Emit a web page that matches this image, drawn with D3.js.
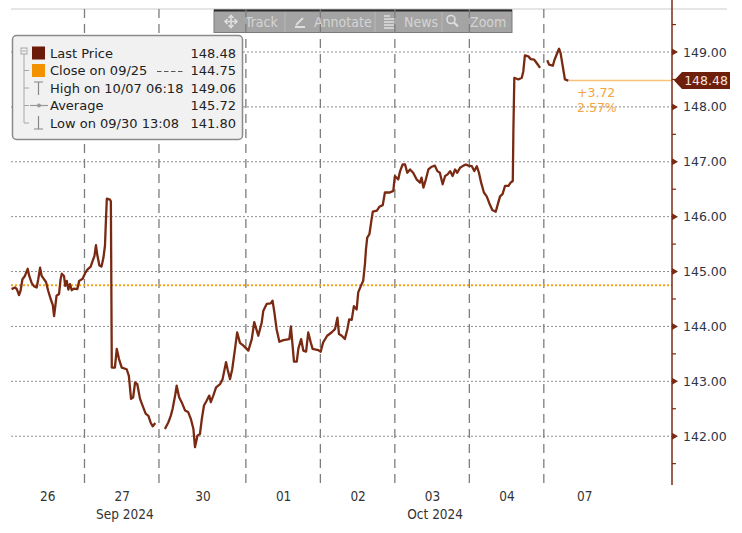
<!DOCTYPE html>
<html>
<head>
<meta charset="utf-8">
<script src="https://cdn.jsdelivr.net/npm/d3@7.9.0/dist/d3.min.js"></script>
<style>
  body { margin: 0; background: #fff; }
  svg { display: block; }
  text { font-family: "DejaVu Sans", sans-serif; }
</style>
</head>
<body>
<svg id="chart" width="742" height="533"></svg>
<script>
// sessions (hours from the start of the 26th session)
const dayLabels = ['26', '27', '30', '01', '02', '03', '04', '07'];
const dayLabelHours = [12, 36, 62, 88, 112, 136, 160, 185];
const dayBoundaries = [24, 48, 76, 100, 124, 148, 172];
const monthLabels = ['Sep 2024', 'Oct 2024'];
const monthLabelHours = [37, 137];

// price ticks
const yTicks = [142, 143, 144, 145, 146, 147, 148, 149];
const yMinorTicks = [141.5, 142.5, 143.5, 144.5, 145.5, 146.5, 147.5, 148.5, 149.5];

// intraday series (null = market closed)
const priceHours = [
  0.5, 1.6, 2.2, 2.9, 3.4, 4.0, 4.8, 5.7, 6.2, 7.0, 7.8, 8.6, 9.1, 9.7, 10.2, 10.7, 11.6, 12.3, 13.1, 13.8,
  14.2, 14.6, 15.0, 15.8, 16.3, 16.7, 17.4, 17.8, 18.3, 18.8, 19.3, 19.9, 20.6, 21.7, 22.3, 23.4,
  24.2, 25.0, 26.0, 26.6, 27.2, 27.7, 28.1, 28.8, 29.5, 30.1, 30.6, 30.9, 31.2, 32.2, 32.5, 32.8, 33.8,
  34.4, 35.1, 36.0, 37.6, 38.3, 39.0, 39.7, 40.3, 41.0, 41.9, 42.9, 43.7, 44.6, 45.3, 46.0, 46.8,
  48.0,
  49.9, 51.0, 51.8, 52.4, 53.2, 53.7, 54.5, 55.3, 56.4, 57.4, 58.3, 59.1, 59.6, 60.4, 61.2, 61.8,
  62.5, 63.4, 64.2, 64.7, 65.5, 66.4, 67.7, 68.5, 69.6, 70.1, 70.9, 71.6, 72.5, 73.2, 74.1, 75.2,
  76.8, 77.9, 78.7, 80.0, 81.1, 81.6, 82.7, 84.0, 84.6, 85.2, 85.9, 86.8, 88.1, 90.0, 90.5, 91.1,
  91.5, 92.4, 92.9, 93.8, 94.5, 95.4, 96.1, 96.9, 97.5, 99.3,
  100.1, 100.9, 102.2, 103.6, 104.7, 105.5, 106.0, 106.9, 107.9, 108.7, 109.3, 110.1, 110.8, 111.7,
  112.2, 113.3, 113.8, 114.4, 114.7, 115.1, 115.8, 116.5, 116.9, 118.2, 119.0, 120.1, 120.8, 121.9,
  122.4, 123.5,
  124.0, 125.1, 125.7, 126.5, 127.3, 128.0, 128.9, 129.9, 131.0, 132.1, 132.6, 133.2, 134.0, 134.8,
  135.9, 136.9, 137.7, 138.5, 139.4, 140.2, 141.0, 141.8, 142.6, 143.4, 144.1, 145.0, 146.1, 146.9,
  147.7,
  148.8, 149.6, 150.4, 151.1, 151.8, 152.7, 153.6, 154.4, 155.4, 156.5, 157.3, 157.9, 158.7, 159.5,
  160.6, 161.3, 162.0, 162.2, 162.5, 163.8, 164.9, 165.4, 165.9, 167.0, 167.8, 168.9, 169.7, 170.8,
  172.0,
  173.1, 173.7, 174.9, 175.4, 176.1, 176.9, 177.4, 178.1, 178.8, 179.9
];
const priceValues = [
  144.68, 144.71, 144.68, 144.57, 144.65, 144.86, 144.92, 145.05, 144.92, 144.79, 144.73, 144.71, 144.86, 145.07, 144.92, 144.88, 144.81, 144.65, 144.50, 144.39,
  144.19, 144.37, 144.56, 144.59, 144.86, 144.96, 144.92, 144.74, 144.83, 144.67, 144.77, 144.66, 144.69, 144.68, 144.83, 144.87,
  144.97, 145.04, 145.09, 145.19, 145.28, 145.48, 145.31, 145.11, 145.09, 145.25, 145.47, 145.92, 146.33, 146.31, 146.28, 143.25, 143.25,
  143.59, 143.41, 143.25, 143.22, 143.10, 142.68, 142.71, 142.98, 142.95, 142.68, 142.53, 142.41, 142.37, 142.25, 142.18, 142.24,
  null,
  142.13, 142.25, 142.37, 142.50, 142.74, 142.92, 142.71, 142.62, 142.47, 142.44, 142.31, 142.13, 141.80, 142.01, 142.04, 142.31,
  142.56, 142.65, 142.74, 142.62, 142.74, 142.89, 142.95, 143.04, 143.35, 143.22, 143.04, 143.22, 143.59, 143.89, 143.70, 143.65,
  143.56, 143.77, 144.08, 143.83, 144.07, 144.28, 144.41, 144.42, 144.47, 144.25, 143.95, 143.72, 143.75, 143.77, 144.00, 143.62,
  143.36, 143.36, 143.59, 143.77, 143.56, 143.54, 143.89, 143.71, 143.59, 143.57,
  143.54, 143.71, 143.83, 143.89, 143.95, 144.16, 143.86, 143.83, 143.77, 143.95, 144.13, 144.12, 144.37, 144.31,
  144.62, 144.77, 144.83, 145.16, 145.41, 145.62, 145.68, 145.95, 146.09, 146.11, 146.18, 146.21, 146.44, 146.44,
  146.44, 146.47,
  146.74, 146.68, 146.83, 146.95, 146.95, 146.80, 146.86, 146.80, 146.68, 146.62, 146.71, 146.53, 146.68, 146.86,
  146.91, 146.93, 146.83, 146.80, 146.59, 146.74, 146.77, 146.83, 146.74, 146.86, 146.80, 146.89, 146.93, 146.95,
  146.93,
  146.92, 146.83, 146.92, 146.80, 146.62, 146.44, 146.37, 146.25, 146.12, 146.09, 146.25, 146.37, 146.41, 146.56,
  146.56, 146.62, 146.65, 147.59, 148.53, 148.50, 148.53, 148.65, 148.94, 148.92, 148.87, 148.86, 148.80, 148.71,
  null,
  148.85, 148.77, 148.75, 148.85, 148.95, 149.06, 148.98, 148.74, 148.50, 148.48
];

const closePrice = 144.75;
const lastPrice = 148.48;
const changeLabels = ['+3.72', '2.57%'];

// legend
const legendLabels = ['Last Price', 'Close on 09/25', 'High on 10/07 06:18', 'Average', 'Low on 09/30 13:08'];
const legendValues = ['148.48', '144.75', '149.06', '145.72', '141.80'];

// toolbar
const toolButtons = ['Track', 'Annotate', 'News', 'Zoom'];

const lineColor = '#7a2a12';
const svg = d3.select('#chart');

const plotLeft = 11, plotRight = 672, plotTop = 9, plotBottom = 485;
const x = d3.scaleLinear().domain([0, 213.3]).range([10, plotRight]);
const y = d3.scaleLinear().domain([142, 149]).range([436.2, 52]);

// top border
svg.append('line')
  .attr('x1', plotLeft).attr('x2', 727).attr('y1', plotTop).attr('y2', plotTop)
  .attr('stroke', '#dcdcdc').attr('stroke-width', 1.5);

// toolbar
const tb = svg.append('g');
const tbX = [214, 285, 375, 442, 512];
tb.append('rect')
  .attr('x', 214).attr('y', 10).attr('width', 298).attr('height', 22.5)
  .attr('fill', '#a4a4a4').attr('stroke', '#7a7a7a');
tb.append('line')
  .attr('x1', 214).attr('x2', 512).attr('y1', 10.5).attr('y2', 10.5)
  .attr('stroke', '#2a2a2a').attr('stroke-width', 2);
tbX.slice(1, 4).forEach(sx => {
  tb.append('line')
    .attr('x1', sx).attr('x2', sx).attr('y1', 12).attr('y2', 32)
    .attr('stroke', '#b8b8b8');
});
const tbText = [245, 314, 404, 470];
toolButtons.forEach((b, i) => {
  tb.append('text')
    .attr('x', tbText[i]).attr('y', 26.5)
    .style('font-family', '"DejaVu Sans Condensed", sans-serif')
    .style('font-size', '14px')
    .attr('fill', '#d4d4d4')
    .text(b);
});
const iconC = '#dedede';
// track icon (4-way arrows)
tb.append('path')
  .attr('d', 'M225,21.5h12M231,15.5v12M228.5,18l2.5,-2.5l2.5,2.5M228.5,25l2.5,2.5l2.5,-2.5M227.5,19l-2.5,2.5l2.5,2.5M234.5,19l2.5,2.5l-2.5,2.5')
  .attr('stroke', iconC).attr('stroke-width', 1.6).attr('fill', 'none');
// pencil
tb.append('path')
  .attr('d', 'M295,27h10M296,25l7,-7')
  .attr('stroke', iconC).attr('stroke-width', 1.8).attr('fill', 'none');
// news lines
tb.append('path')
  .attr('d', 'M384,16h6M384,19h10M384,22h10M384,25h10M384,28h10')
  .attr('stroke', iconC).attr('stroke-width', 1.5).attr('fill', 'none');
// magnifier
tb.append('circle').attr('cx', 451).attr('cy', 19.5).attr('r', 4)
  .attr('stroke', iconC).attr('stroke-width', 1.6).attr('fill', 'none');
tb.append('path').attr('d', 'M454,22.5l4,4')
  .attr('stroke', iconC).attr('stroke-width', 2.2);

// horizontal dotted grid
svg.append('g').selectAll('line')
  .data(yTicks)
  .join('line')
  .attr('x1', plotLeft).attr('x2', plotRight)
  .attr('y1', d => y(d)).attr('y2', d => y(d))
  .attr('stroke', '#8e8e8e').attr('stroke-width', 1)
  .attr('stroke-dasharray', '2,2');

// vertical dashed day lines
svg.append('g').selectAll('line')
  .data(dayBoundaries)
  .join('line')
  .attr('x1', d => x(d)).attr('x2', d => x(d))
  .attr('y1', plotTop).attr('y2', plotBottom)
  .attr('stroke', '#7d7d7d').attr('stroke-width', 1.3)
  .attr('stroke-dasharray', '9,6');

// close line
svg.append('line')
  .attr('x1', plotLeft).attr('x2', plotRight)
  .attr('y1', y(closePrice)).attr('y2', y(closePrice))
  .attr('stroke', '#f5a214').attr('stroke-width', 2)
  .attr('stroke-dasharray', '2,2');

// last price extension
const lastHour = priceHours[priceHours.length - 1];
svg.append('line')
  .attr('x1', x(lastHour)).attr('x2', plotRight)
  .attr('y1', y(lastPrice)).attr('y2', y(lastPrice))
  .attr('stroke', '#f8c27a').attr('stroke-width', 1.5);

svg.selectAll('.chg')
  .data(changeLabels)
  .join('text')
  .attr('x', 577).attr('y', (d, i) => 96.5 + i * 15)
  .style('font-size', '12.5px')
  .attr('fill', '#f5a442')
  .text(d => d);

// price line
const pts = priceHours.map((h, i) => [h, priceValues[i]]);
const line = d3.line()
  .defined(d => d[1] !== null)
  .x(d => x(d[0]))
  .y(d => y(d[1]));
svg.append('path')
  .datum(pts)
  .attr('d', line)
  .attr('fill', 'none')
  .attr('stroke', lineColor)
  .attr('stroke-width', 2.3)
  .attr('stroke-linejoin', 'round');

// right axis
const yAxis = svg.append('g')
  .attr('transform', `translate(${plotRight},0)`)
  .call(d3.axisRight(y).tickValues(yTicks).tickFormat(d3.format('.2f')).tickSize(0).tickPadding(11));
yAxis.select('.domain').remove();
yAxis.selectAll('text')
  .style('font-family', '"DejaVu Sans", sans-serif')
  .style('font-size', '12.5px')
  .attr('fill', '#2c3646');
svg.append('line')
  .attr('x1', plotRight).attr('x2', plotRight).attr('y1', 0).attr('y2', plotBottom)
  .attr('stroke', lineColor).attr('stroke-width', 1.5);
svg.append('g').selectAll('path')
  .data(yTicks)
  .join('path')
  .attr('d', d => `M${plotRight},${y(d) - 3.5}L${plotRight + 6},${y(d)}L${plotRight},${y(d) + 3.5}Z`)
  .attr('fill', lineColor);
svg.append('g').selectAll('line')
  .data(yMinorTicks)
  .join('line')
  .attr('x1', plotRight).attr('x2', plotRight + 4)
  .attr('y1', d => y(d)).attr('y2', d => y(d))
  .attr('stroke', lineColor).attr('stroke-width', 1.2);

// last price tag
const ly = y(lastPrice);
svg.append('path')
  .attr('d', `M${plotRight + 2},${ly}L${plotRight + 10},${ly - 8.5}L730,${ly - 8.5}L730,${ly + 8.5}L${plotRight + 10},${ly + 8.5}Z`)
  .attr('fill', '#6e1f0b');
svg.append('text')
  .attr('x', 706).attr('y', ly + 4.5)
  .attr('text-anchor', 'middle')
  .style('font-size', '12.5px')
  .attr('fill', '#f4e4dc')
  .text(d3.format('.2f')(lastPrice));

// bottom axis
const xAxis = svg.append('g')
  .attr('transform', `translate(0,${plotBottom + 2})`)
  .call(d3.axisBottom(x).tickValues(dayLabelHours).tickFormat((d, i) => dayLabels[i]).tickSize(0).tickPadding(4));
xAxis.select('.domain').remove();
xAxis.selectAll('text')
  .style('font-family', '"DejaVu Sans Condensed", sans-serif')
  .style('font-size', '13.5px')
  .attr('fill', '#333');
svg.append('g').selectAll('text')
  .data(monthLabels)
  .join('text')
  .attr('x', (d, i) => x(monthLabelHours[i])).attr('y', 519)
  .attr('text-anchor', 'middle')
  .style('font-family', '"DejaVu Sans Condensed", sans-serif')
  .style('font-size', '13.5px')
  .attr('fill', '#333')
  .text(d => d);

// legend box
const lg = svg.append('g');
lg.append('rect')
  .attr('x', 12.5).attr('y', 35.5).attr('width', 230).attr('height', 104).attr('rx', 4)
  .attr('fill', '#f1f1f1').attr('stroke', '#8a8a8a').attr('stroke-width', 1.5);
const rowY = [53, 70.5, 88, 105.5, 123];
const treeC = '#a8a8a8';
lg.append('line').attr('x1', 24).attr('x2', 24).attr('y1', 54).attr('y2', rowY[4])
  .attr('stroke', treeC);
rowY.slice(1).forEach(ry => {
  lg.append('line').attr('x1', 24).attr('x2', 29).attr('y1', ry).attr('y2', ry).attr('stroke', treeC);
});
lg.append('rect').attr('x', 21).attr('y', 48).attr('width', 6).attr('height', 6)
  .attr('fill', '#f1f1f1').attr('stroke', treeC);
lg.append('line').attr('x1', 22).attr('x2', 26).attr('y1', 51).attr('y2', 51).attr('stroke', treeC);

// legend icons
lg.append('rect').attr('x', 32).attr('y', rowY[0] - 6.5).attr('width', 13).attr('height', 13).attr('fill', '#6b1a0a');
lg.append('rect').attr('x', 32).attr('y', rowY[1] - 6.5).attr('width', 13).attr('height', 13).attr('fill', '#f39200');
lg.append('path').attr('d', `M34,${rowY[2] - 6}h9M38.5,${rowY[2] - 6}v13`)
  .attr('stroke', '#888').attr('stroke-width', 1.2).attr('fill', 'none');
lg.append('path').attr('d', `M30,${rowY[3]}h18`)
  .attr('stroke', '#999').attr('stroke-width', 1.2);
lg.append('circle').attr('cx', 39).attr('cy', rowY[3]).attr('r', 2).attr('fill', '#999');
lg.append('path').attr('d', `M34,${rowY[4] + 6}h9M38.5,${rowY[4] + 6}v-13`)
  .attr('stroke', '#888').attr('stroke-width', 1.2).attr('fill', 'none');
lg.append('line').attr('x1', 157).attr('x2', 184).attr('y1', rowY[1] + 1).attr('y2', rowY[1] + 1)
  .attr('stroke', '#555').attr('stroke-width', 1.2).attr('stroke-dasharray', '4.5,2.5');

lg.selectAll('.ll')
  .data(legendLabels)
  .join('text')
  .attr('x', 50).attr('y', (d, i) => rowY[i] + 4.8)
  .style('font-size', '13px')
  .attr('fill', '#222')
  .text(d => d);
lg.selectAll('.lv')
  .data(legendValues)
  .join('text')
  .attr('x', 236).attr('y', (d, i) => rowY[i] + 4.8)
  .attr('text-anchor', 'end')
  .style('font-size', '13px')
  .attr('fill', '#222')
  .text(d => d);
</script>
</body>
</html>
